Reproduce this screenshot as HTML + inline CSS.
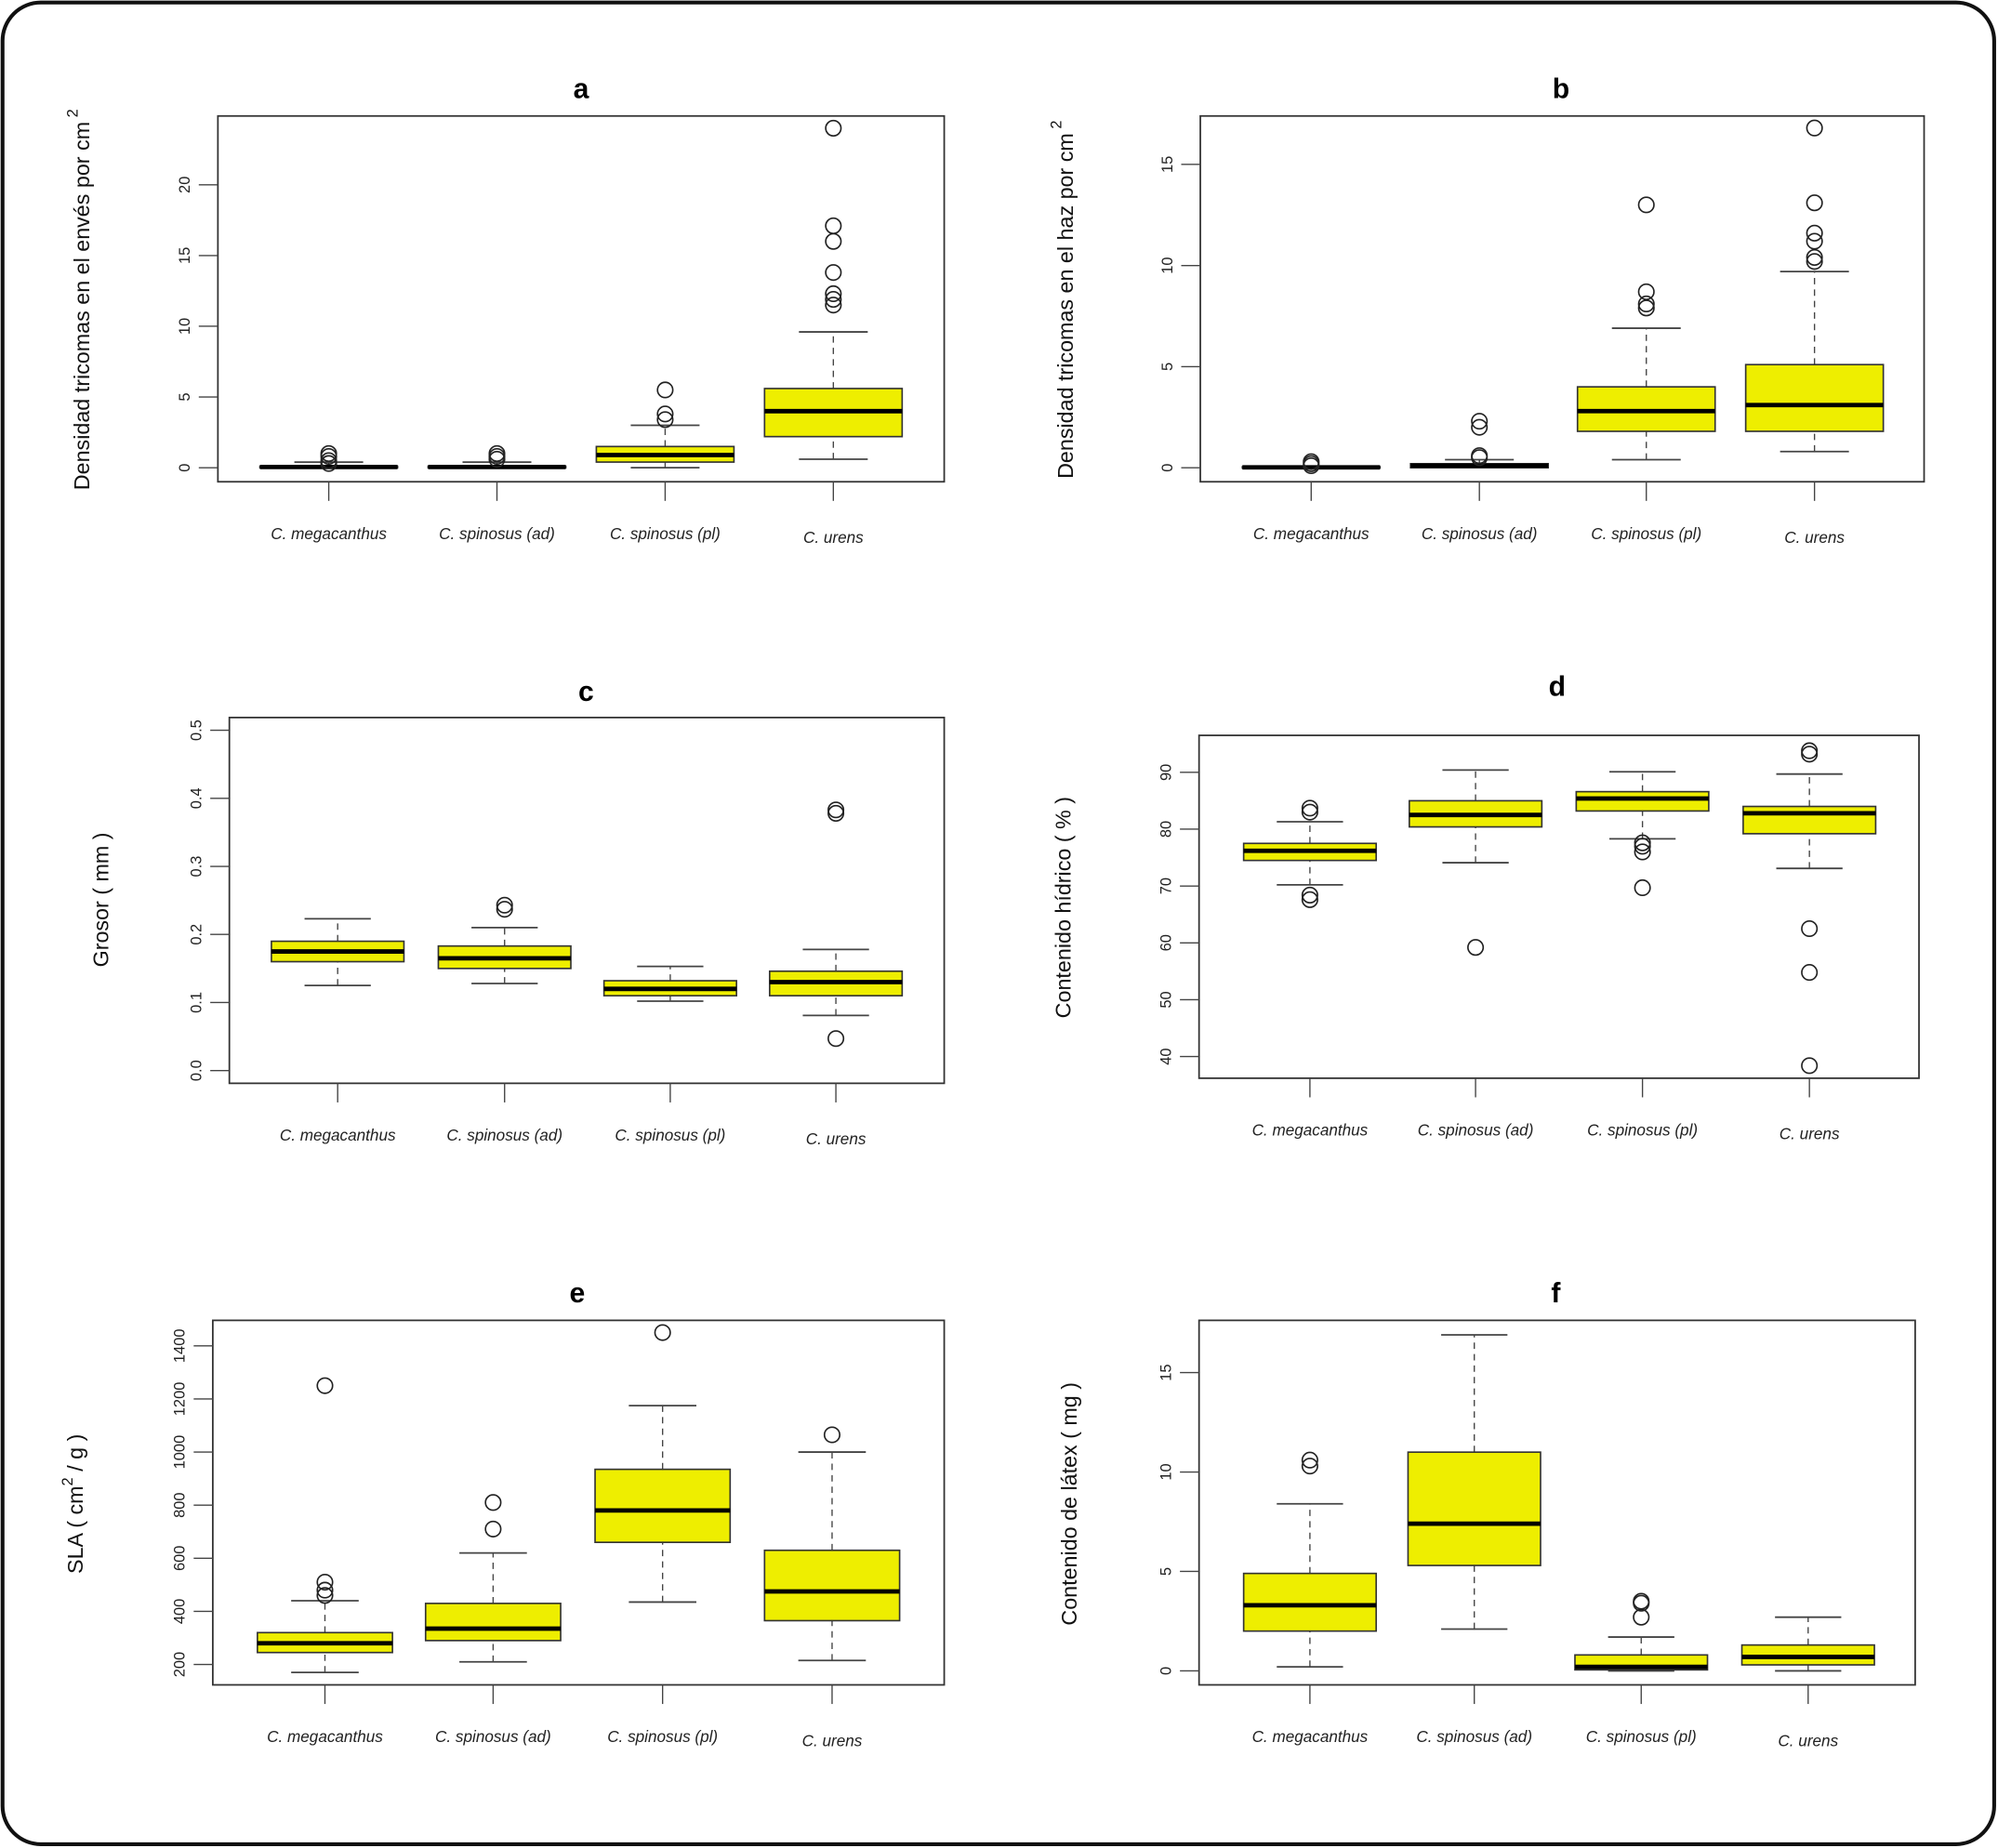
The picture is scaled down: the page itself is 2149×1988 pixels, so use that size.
<!DOCTYPE html>
<html><head><meta charset="utf-8"><style>
html,body{margin:0;padding:0;background:#fff;}
svg{display:block;}
text{font-family:"Liberation Sans",sans-serif;}
</style></head><body>
<svg id="fig" width="2149" height="1988" viewBox="0 0 1568 1450" preserveAspectRatio="none" xmlns="http://www.w3.org/2000/svg">
<rect x="2" y="2" width="1563" height="1445" rx="30" ry="30" fill="#fff" stroke="#111" stroke-width="3"/>
</svg>
<script>
const categories = ["C. megacanthus","C. spinosus (ad)","C. spinosus (pl)","C. urens"];
// stats: [lowWhisker, q1, median, q3, highWhisker]
const aStats = [[0,0,0.05,0.1,0.4],[0,0,0.05,0.1,0.4],[0,0.4,0.9,1.5,3.0],[0.6,2.2,4.0,5.6,9.6]];
const aOutliers = [[0.3,0.5,0.8,1.0],[0.6,0.8,1.0],[3.4,3.8,5.5],[11.5,11.9,12.3,13.8,16.0,17.1,24.0]];
const aTicks = [0,5,10,15,20];
const bStats = [[0,0,0.02,0.05,0.05],[0,0,0.1,0.2,0.4],[0.4,1.8,2.8,4.0,6.9],[0.8,1.8,3.1,5.1,9.7]];
const bOutliers = [[0.1,0.2,0.3],[0.5,0.6,2.0,2.3],[7.9,8.1,8.7,13.0],[10.2,10.4,11.2,11.6,13.1,16.8]];
const bTicks = [0,5,10,15];
const cStats = [[0.125,0.160,0.175,0.190,0.223],[0.128,0.150,0.165,0.183,0.210],[0.102,0.110,0.120,0.132,0.153],[0.081,0.110,0.130,0.146,0.178]];
const cOutliers = [[],[0.237,0.243],[],[0.047,0.378,0.383]];
const cTicks = [0.0,0.1,0.2,0.3,0.4,0.5];
const cTickLabels = ["0.0","0.1","0.2","0.3","0.4","0.5"];
const dStats = [[70.2,74.5,76.2,77.5,81.3],[74.1,80.4,82.5,85.0,90.4],[78.3,83.2,85.4,86.6,90.1],[73.1,79.2,82.8,84.0,89.7]];
const dOutliers = [[67.6,68.4,83.0,83.7],[59.2],[69.7,76.0,77.0,77.6],[38.4,54.8,62.5,93.2,93.8]];
const dTicks = [40,50,60,70,80,90];
const eStats = [[170,245,280,320,440],[210,290,335,430,620],[435,660,780,935,1175],[215,365,475,630,1000]];
const eOutliers = [[460,480,510,1250],[710,810],[1450],[1065]];
const eTicks = [200,400,600,800,1000,1200,1400];
const fStats = [[0.2,2.0,3.3,4.9,8.4],[2.1,5.3,7.4,11.0,16.9],[0.0,0.05,0.2,0.8,1.7],[0.0,0.3,0.7,1.3,2.7]];
const fOutliers = [[10.3,10.6],[],[2.7,3.4,3.5],[]];
const fTicks = [0,5,10,15];

const NS = "http://www.w3.org/2000/svg";
const svg = document.getElementById("fig");
function mk(tag, attrs, parent){
  const el = document.createElementNS(NS, tag);
  for (const k in attrs) el.setAttribute(k, attrs[k]);
  (parent||svg).appendChild(el);
  return el;
}

const panels = [
  {id:"a", title:"a", tx:456, ty:77, box:[171,91,741,378], v0:0, p0:367, v1:20, p1:145, cats:[258,390,522,654], stats:aStats, out:aOutliers, ticks:aTicks, labels:null, ytitle:"Densidad tricomas en el envés por cm", sup:true, ytx:70, yty:235, bw:54},
  {id:"b", title:"b", tx:1225, ty:77, box:[942,91,1510,378], v0:0, p0:367, v1:15, p1:129, cats:[1029,1161,1292,1424], stats:bStats, out:bOutliers, ticks:bTicks, labels:null, ytitle:"Densidad tricomas en el haz por cm", sup:true, ytx:842, yty:235, bw:54},
  {id:"c", title:"c", tx:460, ty:550, box:[180,563,741,850], v0:0, p0:840, v1:0.5, p1:573, cats:[265,396,526,656], stats:cStats, out:cOutliers, ticks:cTicks, labels:cTickLabels, ytitle:"Grosor ( mm )", sup:false, ytx:85, yty:706, bw:52},
  {id:"d", title:"d", tx:1222, ty:546, box:[941,577,1506,846], v0:40, p0:829, v1:90, p1:606, cats:[1028,1158,1289,1420], stats:dStats, out:dOutliers, ticks:dTicks, labels:null, ytitle:"Contenido hídrico ( % )", sup:false, ytx:840, yty:712, bw:52},
  {id:"e", title:"e", tx:453, ty:1022, box:[167,1036,741,1322], v0:200, p0:1306, v1:1400, p1:1056, cats:[255,387,520,653], stats:eStats, out:eOutliers, ticks:eTicks, labels:null, ytitle:"SLA  ( cm", sup:"sla", ytx:65, yty:1180, bw:53},
  {id:"f", title:"f", tx:1221, ty:1022, box:[941,1036,1503,1322], v0:0, p0:1311, v1:15, p1:1077, cats:[1028,1157,1288,1419], stats:fStats, out:fOutliers, ticks:fTicks, labels:null, ytitle:"Contenido de látex ( mg )", sup:false, ytx:845, yty:1180, bw:52}
];

panels.forEach(p => {
  const g = mk("g", {});
  
  
  const y = v => p.p0 + (v - p.v0) * (p.p1 - p.p0) / (p.v1 - p.v0);
  const [x0,y0,x1,y1] = p.box;
  const t = mk("text", {x:p.tx, y:p.ty, "text-anchor":"middle", "font-size":22, "font-weight":"bold"}, g);
  t.textContent = p.title;
  
  
  const fr = mk("rect", {x:x0, y:y0, width:x1-x0, height:y1-y0, fill:"none", stroke:"#333", "stroke-width":1.3}, g);
  
  
  p.ticks.forEach((v,i) => {
    const yy = y(v);
    const tk = mk("line", {x1:x0-15, x2:x0, y1:yy, y2:yy, stroke:"#444", "stroke-width":1}, g);
    
    
    const lb = mk("text", {x:0, y:0, "text-anchor":"middle", "font-size":12, fill:"#222", transform:`translate(${x0-22},${yy}) rotate(-90)`}, g);
    lb.textContent = p.labels ? p.labels[i] : String(v);
    
    
  });
  const yt = mk("text", {x:0, y:0, "text-anchor":"middle", "font-size":17, fill:"#111", transform:`translate(${p.ytx},${p.yty}) rotate(-90)`}, g);
  if (p.sup === true) {
    yt.textContent = p.ytitle;
    const s = mk("tspan", {dy:-9, "font-size":12}, yt); s.textContent = " 2";
  } else if (p.sup === "sla") {
    yt.textContent = p.ytitle;
    const s = mk("tspan", {dy:-8, "font-size":12}, yt); s.textContent = "2";
    const r = mk("tspan", {dy:8}, yt); r.textContent = " / g )";
  } else yt.textContent = p.ytitle;
  
  
  p.cats.forEach((cx, i) => {
    const xt = mk("line", {x1:cx, x2:cx, y1:y1, y2:y1+15, stroke:"#444", "stroke-width":1}, g);
    
    
    const cl = mk("text", {x:cx, y:y1 + (i===3?48:45), "text-anchor":"middle", "font-size":12.5, "font-style":"italic", fill:"#222"}, g);
    cl.textContent = categories[i];
    
    
    const s = p.stats[i];
    const bw = p.bw, cw = bw/2;
    const w1 = mk("line", {x1:cx, x2:cx, y1:y(s[0]), y2:y(s[1]), stroke:"#444", "stroke-dasharray":"5,4"}, g);
    
    
    const w2 = mk("line", {x1:cx, x2:cx, y1:y(s[3]), y2:y(s[4]), stroke:"#444", "stroke-dasharray":"5,4"}, g);
    
    
    const c1 = mk("line", {x1:cx-cw, x2:cx+cw, y1:y(s[0]), y2:y(s[0]), stroke:"#444", "stroke-width":1.3}, g);
    
    
    const c2 = mk("line", {x1:cx-cw, x2:cx+cw, y1:y(s[4]), y2:y(s[4]), stroke:"#444", "stroke-width":1.3}, g);
    
    
    const bx = mk("rect", {x:cx-bw, y:y(s[3]), width:2*bw, height:Math.max(1, y(s[1])-y(s[3])), fill:"#eeee00", stroke:"#333", "stroke-width":1.2}, g);
    
    
    const md = mk("line", {x1:cx-bw, x2:cx+bw, y1:y(s[2]), y2:y(s[2]), stroke:"#000", "stroke-width":3.5}, g);
    
    
    p.out[i].forEach(v => {
      const o = mk("circle", {cx:cx, cy:y(v), r:6, fill:"none", stroke:"#222", "stroke-width":1.2}, g);
      
      
    });
  });
});
</script>
</body></html>
